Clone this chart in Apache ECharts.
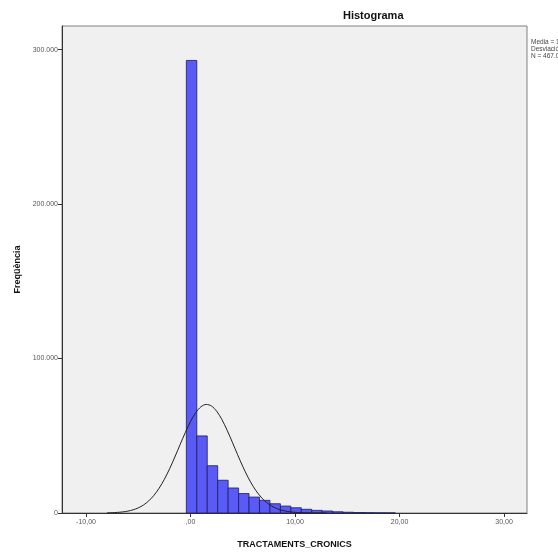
<!DOCTYPE html>
<html>
<head>
<meta charset="utf-8">
<script src="https://cdn.jsdelivr.net/npm/echarts@6/dist/echarts.min.js"></script>
<style>
  html, body { margin: 0; padding: 0; background: #ffffff; }
  #chart { width: 558px; height: 554px; }
</style>
</head>
<body>
<div id="chart"></div>
<script>
// Histogram bins of TRACTAMENTS_CRONICS (width 1, left edge = binStart + i)
const binStart = -0.4;
const binWidth = 1;
const binCounts = [293000, 49900, 30600, 21200, 16200, 12600, 10300, 8200, 6000, 4500,
                   3400, 2400, 1700, 1300, 800, 500, 300, 200, 100, 60];

// Fitted normal curve (frequency scale)
const curveX = [-8, -7.5, -7, -6.5, -6, -5.5, -5, -4.5, -4, -3.5, -3, -2.5, -2, -1.5, -1, -0.5,
                0, 0.5, 1, 1.5, 2, 2.5, 3, 3.5, 4, 4.5, 5, 5.5, 6, 6.5, 7, 7.5, 8, 8.5, 9, 9.5,
                10, 10.5, 11, 12, 13];
const curveY = [106, 206, 386, 697, 1215, 2041, 3313, 5187, 7847, 11440, 16100, 21870, 28660,
                36250, 44250, 52110, 59250, 64990, 68800, 70290, 69300, 65930, 60530, 53630,
                45850, 37830, 30120, 23140, 17160, 12280, 8480, 5650, 3640, 2254, 1351, 781,
                434, 235, 122, 30, 6];

// Axis ticks
const xTicks = [-10, 0, 10, 20, 30];
const xTickLabels = ['-10,00', ',00', '10,00', '20,00', '30,00'];
const yTicks = [0, 100000, 200000, 300000];
const yTickLabels = ['0', '100.000', '200.000', '300.000'];

// Summary statistics shown beside the plot
const statsLines = ['Media = 1,53', 'Desviación típica = 2,65', 'N = 467.000'];

const barData = binCounts.map((v, i) => [binStart + i * binWidth, binStart + (i + 1) * binWidth, v]);
const curveData = curveX.map((x, i) => [x, curveY[i]]);

const chart = echarts.init(document.getElementById('chart'), null, { renderer: 'canvas' });

const labelFont = { fontFamily: 'Liberation Sans, Arial, sans-serif', fontSize: 7, color: '#555' };

chart.setOption({
  animation: false,
  backgroundColor: '#ffffff',
  grid: {
    left: 62, right: 31, top: 26, bottom: 37,
    show: true, backgroundColor: '#f0f0f0', borderColor: '#808080', borderWidth: 1
  },
  xAxis: {
    type: 'value',
    min: -12.3, max: 32.2,
    name: 'TRACTAMENTS_CRONICS',
    nameLocation: 'middle',
    nameGap: 27,
    nameTextStyle: { fontFamily: 'Liberation Sans, Arial, sans-serif', fontSize: 9, fontWeight: 'bold', color: '#111' },
    axisLine: { show: true, onZero: false, lineStyle: { color: '#333', width: 1 } },
    axisTick: { show: true, length: 4, customValues: xTicks, lineStyle: { color: '#333' } },
    axisLabel: Object.assign({
      customValues: xTicks,
      margin: 6,
      formatter: v => xTickLabels[xTicks.indexOf(v)]
    }, labelFont),
    splitLine: { show: false }
  },
  yAxis: {
    type: 'value',
    min: 0, max: 315300,
    name: 'Freqüència',
    nameLocation: 'middle',
    nameGap: 40,
    nameTextStyle: { fontFamily: 'Liberation Sans, Arial, sans-serif', fontSize: 9, fontWeight: 'bold', color: '#111' },
    axisLine: { show: true, onZero: false, lineStyle: { color: '#333', width: 1 } },
    axisTick: { show: true, length: 4, customValues: yTicks, lineStyle: { color: '#333' } },
    axisLabel: Object.assign({
      customValues: yTicks,
      margin: 4,
      formatter: v => yTickLabels[yTicks.indexOf(v)]
    }, labelFont),
    splitLine: { show: false }
  },
  graphic: [
    {
      type: 'text', left: 343, top: 10,
      style: { text: 'Histograma', x: 0, fontFamily: 'Liberation Sans, Arial, sans-serif',
               fontSize: 11, fontWeight: 'bold', fill: '#111', align: 'center' }
    },
    {
      type: 'text', left: 531, top: 39,
      style: { text: statsLines.join('\n'), fontFamily: 'Liberation Sans, Arial, sans-serif',
               fontSize: 6.5, lineHeight: 7, fill: '#444' }
    }
  ],
  series: [
    {
      type: 'custom',
      data: barData,
      encode: { x: [0, 1], y: 2 },
      renderItem: function (params, api) {
        const p0 = api.coord([api.value(0), api.value(2)]);
        const p1 = api.coord([api.value(1), 0]);
        return {
          type: 'rect',
          shape: { x: p0[0], y: p0[1], width: p1[0] - p0[0], height: p1[1] - p0[1] },
          style: { fill: '#5a5af6', stroke: '#1c1c5c', lineWidth: 0.8 }
        };
      },
      z: 2
    },
    {
      type: 'line',
      data: curveData,
      smooth: 0.3,
      showSymbol: false,
      lineStyle: { color: '#222', width: 1 },
      z: 3
    }
  ]
});
</script>
</body>
</html>
